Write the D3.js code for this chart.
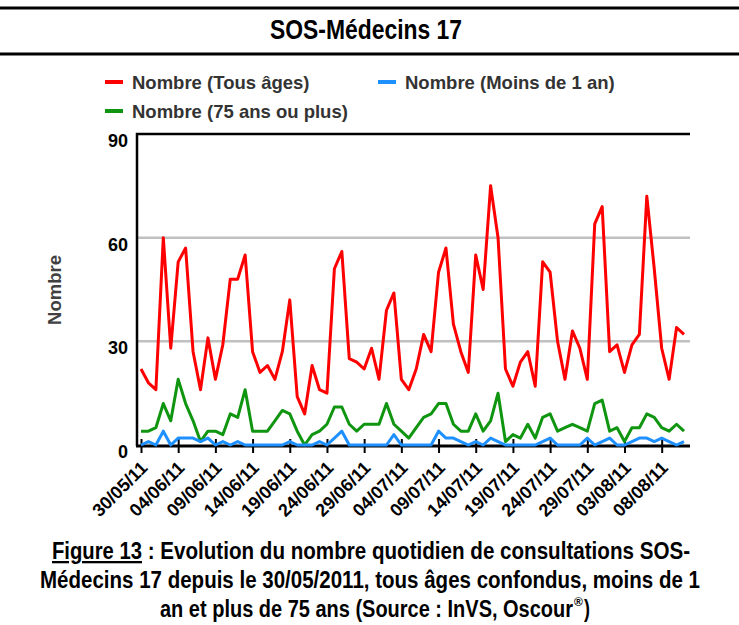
<!DOCTYPE html>
<html>
<head>
<meta charset="utf-8">
<script src="https://cdn.jsdelivr.net/npm/d3@7"></script>
<style>
  body { margin: 0; background: #fff; }
  svg { display: block; }
</style>
</head>
<body>
<script>
// Daily counts, starting 30/05/2011
const startDate = new Date(2011, 4, 30);
const tousAges = [22, 18, 16, 60, 28, 53, 57, 27, 16, 31, 19, 29, 48, 48, 55, 27, 21, 23, 19, 27,
  42, 14, 9, 23, 16, 15, 51, 56, 25, 24, 22, 28, 19, 39, 44, 19, 16, 22, 32, 27,
  50, 57, 35, 27, 21, 55, 45, 75, 60, 22, 17, 24, 27, 17, 53, 50, 30, 19, 33, 28,
  19, 64, 69, 27, 29, 21, 29, 32, 72, 51, 28, 19, 34, 32];
const moinsDe1An = [0, 1, 0, 4, 0, 2, 2, 2, 1, 2, 0, 1, 0, 1, 0, 0, 0, 0, 0, 0,
  1, 0, 0, 0, 1, 0, 2, 4, 0, 0, 0, 0, 0, 0, 3, 0, 0, 0, 0, 0,
  4, 2, 2, 1, 0, 1, 0, 2, 1, 0, 0, 0, 0, 0, 1, 2, 0, 0, 0, 0,
  2, 0, 1, 2, 0, 0, 1, 2, 2, 1, 2, 1, 0, 1];
const plus75Ans = [4, 4, 5, 12, 7, 19, 12, 7, 1, 4, 4, 3, 9, 8, 16, 4, 4, 4, 7, 10,
  9, 4, 0, 3, 4, 6, 11, 11, 6, 4, 6, 6, 6, 12, 6, 4, 2, 5, 8, 9,
  12, 12, 6, 4, 4, 9, 4, 7, 15, 1, 3, 2, 6, 2, 8, 9, 4, 5, 6, 5,
  4, 12, 13, 4, 5, 1, 5, 5, 9, 8, 5, 4, 6, 4];
const yTicks = [0, 30, 60, 90];
const tickEvery = 5; // one date label every 5 days

const series = [
  { name: "Nombre (Tous âges)", values: tousAges, color: "#ff0000" },
  { name: "Nombre (Moins de 1 an)", values: moinsDe1An, color: "#1e90ff" },
  { name: "Nombre (75 ans ou plus)", values: plus75Ans, color: "#109510" }
];

const dates = tousAges.map((_, i) => d3.timeDay.offset(startDate, i));
const tickDates = dates.filter((_, i) => i % tickEvery === 0);

const width = 739;
const height = 625;
const plot = { left: 137, right: 690, top: 134, bottom: 445 };

const arial = "'Liberation Sans', Arial, Helvetica, sans-serif";

const svg = d3.select("body")
  .append("svg")
  .attr("width", width)
  .attr("height", height)
  .attr("viewBox", [0, 0, width, height]);

// Title band
svg.append("g")
  .attr("stroke", "#000")
  .attr("stroke-width", 3)
  .selectAll("line")
  .data([8, 54])
  .join("line")
  .attr("x1", 0).attr("x2", width)
  .attr("y1", d => d).attr("y2", d => d);

// no condensed face installed, so squeeze the bold one to the original width
svg.append("text")
  .attr("x", 270)
  .attr("y", 39)
  .attr("font-family", arial)
  .attr("font-weight", "bold")
  .attr("font-size", 28)
  .attr("textLength", 192)
  .attr("lengthAdjust", "spacingAndGlyphs")
  .text("SOS-Médecins 17");

// Scales
const x = d3.scaleTime()
  .domain([dates[0], dates[dates.length - 1]])
  .range([141, 684]);

const y = d3.scaleLinear()
  .domain([0, 90])
  .range([plot.bottom, plot.top]);

// Grid lines
svg.append("g")
  .attr("stroke", "#c0c0c0")
  .attr("stroke-width", 2.5)
  .selectAll("line")
  .data(yTicks.filter(d => d > 0 && d < 90))
  .join("line")
  .attr("x1", plot.left).attr("x2", plot.right)
  .attr("y1", d => y(d)).attr("y2", d => y(d));

// Frame: left and top
svg.append("path")
  .attr("fill", "none")
  .attr("stroke", "#000")
  .attr("stroke-width", 2.5)
  .attr("d", `M${plot.left},${plot.bottom + 1}V${y(90)}H${plot.right}`);

// Y axis labels
svg.append("g")
  .attr("font-family", arial)
  .attr("font-weight", "bold")
  .attr("font-size", 18)
  .attr("text-anchor", "end")
  .selectAll("text")
  .data(yTicks)
  .join("text")
  .attr("x", 128)
  .attr("y", d => y(d) + 13)
  .text(d => d);

svg.append("text")
  .attr("transform", `translate(61,290) rotate(-90)`)
  .attr("text-anchor", "middle")
  .attr("font-family", arial)
  .attr("font-weight", "bold")
  .attr("font-size", 18.5)
  .attr("fill", "#404040")
  .text("Nombre");

// X axis
const xAxis = svg.append("g")
  .attr("transform", `translate(0,${plot.bottom})`)
  .call(d3.axisBottom(x)
    .tickValues(tickDates)
    .tickFormat(d3.timeFormat("%d/%m/%y"))
    .tickSizeInner(7)
    .tickSizeOuter(0));

xAxis.select(".domain").remove();
xAxis.selectAll(".tick line")
  .attr("stroke-width", 2)
  .attr("y1", -6)
  .attr("y2", 8);
xAxis.selectAll(".tick text")
  .attr("font-family", arial)
  .attr("font-weight", "bold")
  .attr("font-size", 18)
  .attr("fill", "#000")
  .attr("text-anchor", "end")
  .attr("y", 0)
  .attr("dy", 0)
  .attr("transform", "translate(7,24) rotate(-45)");

svg.append("line")
  .attr("x1", plot.left - 1).attr("x2", plot.right)
  .attr("y1", plot.bottom + 1).attr("y2", plot.bottom + 1)
  .attr("stroke", "#000")
  .attr("stroke-width", 3);

// Series lines
const line = d3.line()
  .x((d, i) => x(dates[i]))
  .y(d => y(d));

svg.append("g")
  .attr("fill", "none")
  .attr("stroke-width", 3)
  .attr("stroke-linejoin", "round")
  .selectAll("path")
  .data([series[2], series[1], series[0]])
  .join("path")
  .attr("stroke", d => d.color)
  .attr("d", d => line(d.values));

// Legend
const legendPos = [[105, 82], [378, 82], [105, 111]];
const legend = svg.append("g")
  .attr("font-family", arial)
  .attr("font-weight", "bold")
  .attr("font-size", 18.5)
  .selectAll("g")
  .data(series)
  .join("g")
  .attr("transform", (d, i) => `translate(${legendPos[i][0]},${legendPos[i][1]})`);

legend.append("line")
  .attr("x1", 0).attr("x2", 18)
  .attr("stroke", d => d.color)
  .attr("stroke-width", 4);

legend.append("text")
  .attr("x", 27)
  .attr("y", 6.5)
  .attr("fill", "#333")
  .text(d => d.name);

// Caption, each piece squeezed to the width it has in the original
const caption = svg.append("g")
  .attr("font-family", arial)
  .attr("font-weight", "bold")
  .attr("font-size", 23);

const captionParts = [
  { text: "Figure 13", x: 52, y: 559, len: 90, underline: true },
  { text: " : Evolution du nombre quotidien de consultations SOS-", x: 142, y: 559, len: 548 },
  { text: "Médecins 17 depuis le 30/05/2011, tous âges confondus, moins de 1", x: 40, y: 588, len: 660 },
  { text: "an et plus de 75 ans (Source : InVS, Oscour", x: 160, y: 617, len: 413 },
  { text: ")", x: 584, y: 617, len: 6 }
];

caption.selectAll("text")
  .data(captionParts)
  .join("text")
  .attr("x", d => d.x)
  .attr("y", d => d.y)
  .attr("textLength", d => d.len)
  .attr("lengthAdjust", "spacingAndGlyphs")
  .attr("text-decoration", d => d.underline ? "underline" : null)
  .attr("xml:space", "preserve")
  .style("white-space", "pre")
  .text(d => d.text);

caption.append("text")
  .attr("x", 574)
  .attr("y", 606)
  .attr("font-size", 12)
  .text("®");
</script>
</body>
</html>
